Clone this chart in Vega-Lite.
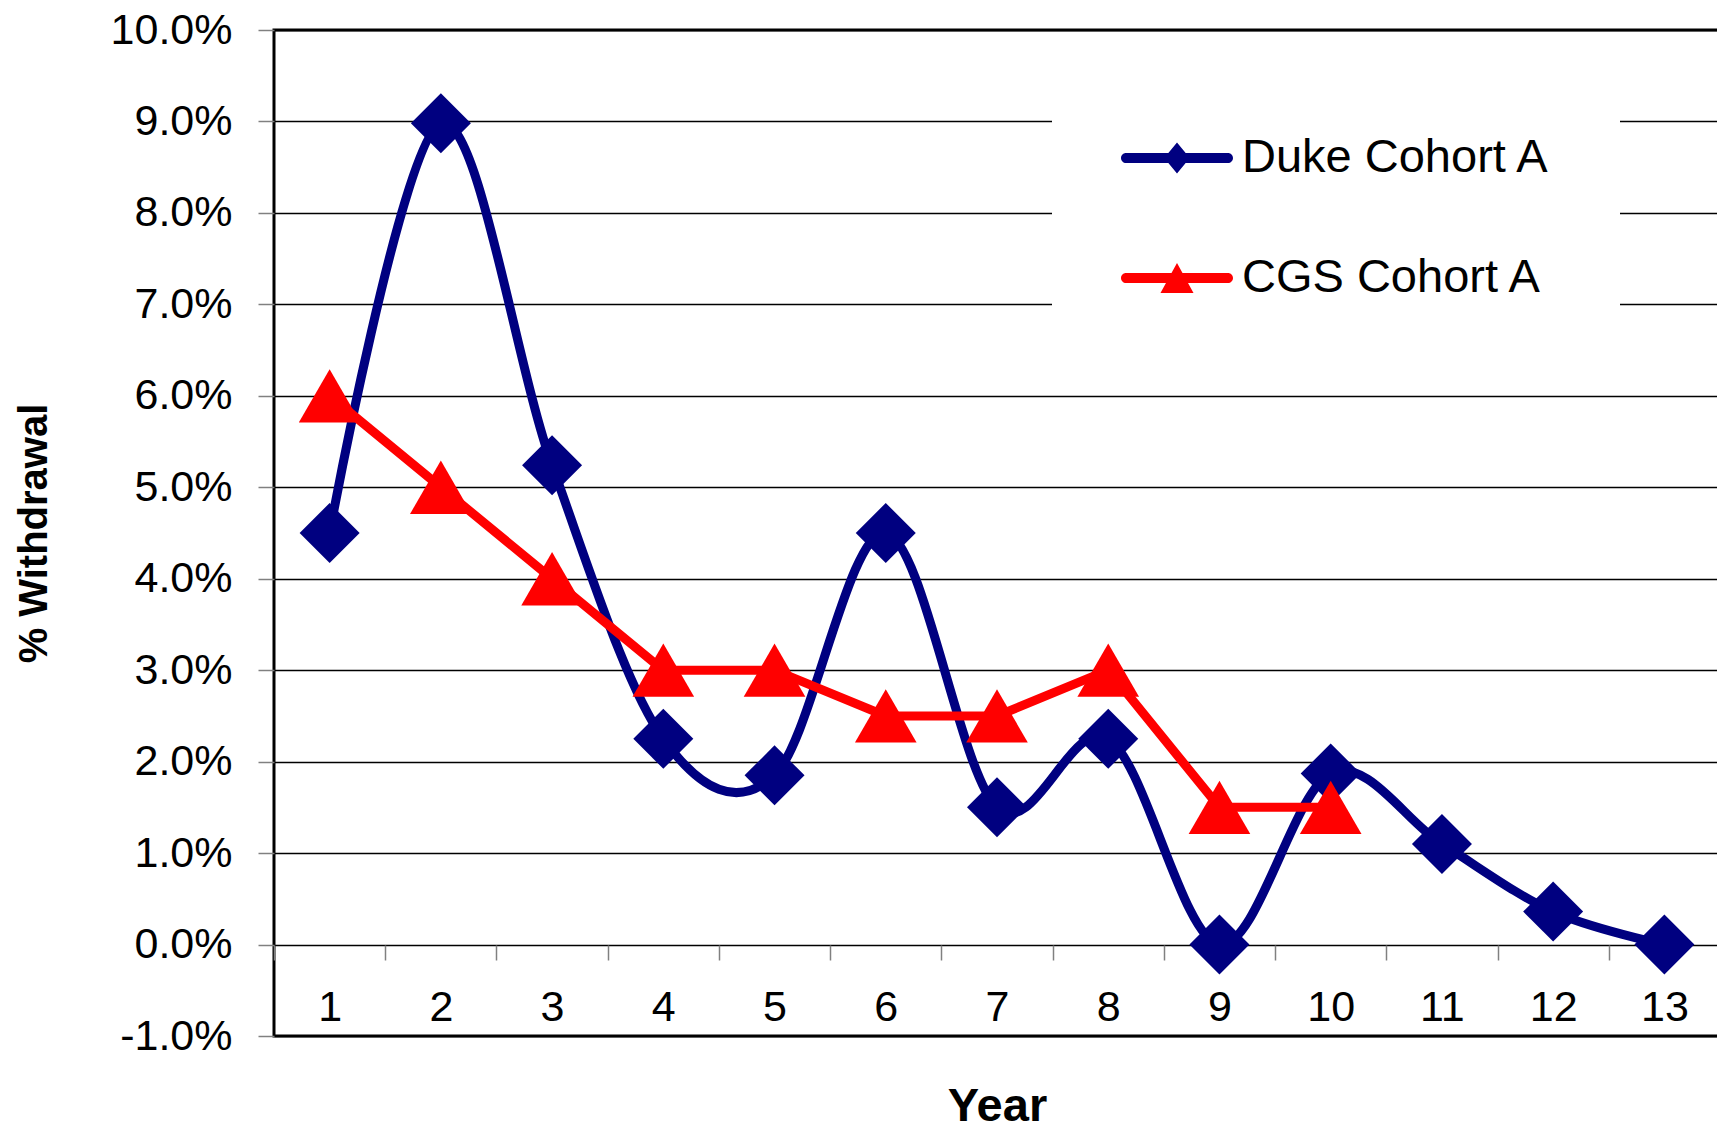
{
  "$schema": "https://vega.github.io/schema/vega-lite/v6.json",
  "width": 1446,
  "height": 1006,
  "autosize": {"type": "none"},
  "padding": {"left": 274, "top": 30, "right": 0, "bottom": 94},
  "background": "white",
  "config": {"view": {"stroke": "#000", "strokeWidth": 3}, "font": "Liberation Sans"},
  "data": {"values": [
    {"series": "Duke Cohort A", "year": 1, "value": 0.045},
    {"series": "Duke Cohort A", "year": 2, "value": 0.0898},
    {"series": "Duke Cohort A", "year": 3, "value": 0.0524},
    {"series": "Duke Cohort A", "year": 4, "value": 0.0225},
    {"series": "Duke Cohort A", "year": 5, "value": 0.0185},
    {"series": "Duke Cohort A", "year": 6, "value": 0.045},
    {"series": "Duke Cohort A", "year": 7, "value": 0.015},
    {"series": "Duke Cohort A", "year": 8, "value": 0.0225},
    {"series": "Duke Cohort A", "year": 9, "value": 0.0},
    {"series": "Duke Cohort A", "year": 10, "value": 0.0187},
    {"series": "Duke Cohort A", "year": 11, "value": 0.011},
    {"series": "Duke Cohort A", "year": 12, "value": 0.0036},
    {"series": "Duke Cohort A", "year": 13, "value": 0.0},
    {"series": "CGS Cohort A", "year": 1, "value": 0.06},
    {"series": "CGS Cohort A", "year": 2, "value": 0.05},
    {"series": "CGS Cohort A", "year": 3, "value": 0.04},
    {"series": "CGS Cohort A", "year": 4, "value": 0.03},
    {"series": "CGS Cohort A", "year": 5, "value": 0.03},
    {"series": "CGS Cohort A", "year": 6, "value": 0.025},
    {"series": "CGS Cohort A", "year": 7, "value": 0.025},
    {"series": "CGS Cohort A", "year": 8, "value": 0.03},
    {"series": "CGS Cohort A", "year": 9, "value": 0.015},
    {"series": "CGS Cohort A", "year": 10, "value": 0.015}
  ]},
  "encoding": {
    "x": {
      "field": "year", "type": "ordinal",
      "scale": {"type": "band", "paddingInner": 0, "paddingOuter": 0},
      "axis": {
        "title": "Year", "offset": -91, "domain": false, "tickBand": "extent",
        "tickSize": 15, "tickColor": "#808080", "tickWidth": 1.5, "labelAngle": 0,
        "labelFontSize": 43, "labelColor": "#000", "labelPadding": 26,
        "titleFontSize": 47, "titleFontWeight": "bold", "titleColor": "#000", "titlePadding": 54,
        "grid": false
      }
    },
    "y": {
      "field": "value", "type": "quantitative",
      "scale": {"domain": [-0.01, 0.10], "nice": false, "zero": false},
      "axis": {
        "title": "% Withdrawal",
        "values": [-0.01, 0, 0.01, 0.02, 0.03, 0.04, 0.05, 0.06, 0.07, 0.08, 0.09, 0.1],
        "labelExpr": "(datum.value < 0 ? '-' : '') + format(abs(datum.value) * 100, '.1f') + '%'",
        "labelFontSize": 43, "labelColor": "#000", "labelPadding": 26,
        "tickSize": 16, "tickColor": "#808080", "tickWidth": 1.5,
        "grid": true, "gridColor": "#000", "gridWidth": 1.3, "domain": false,
        "titleFontSize": 40, "titleFontWeight": "bold", "titleColor": "#000", "titlePadding": 56
      }
    },
    "color": {
      "field": "series", "type": "nominal",
      "scale": {"domain": ["Duke Cohort A", "CGS Cohort A"], "range": ["#000080", "#ff0000"]},
      "legend": {
        "orient": "none", "legendX": 778, "legendY": 34, "title": null,
        "fillColor": "white", "padding": 69,
        "symbolSize": 12544, "clipHeight": 50, "rowPadding": 70,
        "labelFont": "Liberation Sans", "labelFontSize": 47, "labelColor": "#000",
        "labelOffset": 9, "labelLimit": 600,
        "encode": {
          "symbols": {
            "update": {
              "shape": {"signal": "datum.value === 'Duke Cohort A' ? 'M-0.91,-0.09H0.91A0.09,0.09 0 0 1 0.91,0.09H-0.91A0.09,0.09 0 0 1 -0.91,-0.09Z M0,-0.277L0.228,0L0,0.277L-0.228,0Z' : 'M-0.91,-0.09H0.91A0.09,0.09 0 0 1 0.91,0.09H-0.91A0.09,0.09 0 0 1 -0.91,-0.09Z M0,-0.268L0.295,0.268L-0.295,0.268Z'"},
              "fill": {"signal": "datum.value === 'Duke Cohort A' ? '#000080' : '#ff0000'"},
              "strokeWidth": {"value": 0},
              "opacity": {"value": 1}
            }
          }
        }
      }
    }
  },
  "layer": [
    {
      "transform": [{"filter": "datum.series === 'Duke Cohort A'"}],
      "mark": {"type": "line", "interpolate": "cardinal", "strokeWidth": 9}
    },
    {
      "transform": [{"filter": "datum.series === 'Duke Cohort A'"}],
      "mark": {"type": "point", "shape": "diamond", "filled": true, "size": 3600, "opacity": 1}
    },
    {
      "transform": [{"filter": "datum.series === 'CGS Cohort A'"}],
      "mark": {"type": "line", "strokeWidth": 9}
    },
    {
      "transform": [{"filter": "datum.series === 'CGS Cohort A'"}],
      "mark": {"type": "point", "shape": "triangle-up", "filled": true, "size": 3800, "opacity": 1}
    }
  ]
}
